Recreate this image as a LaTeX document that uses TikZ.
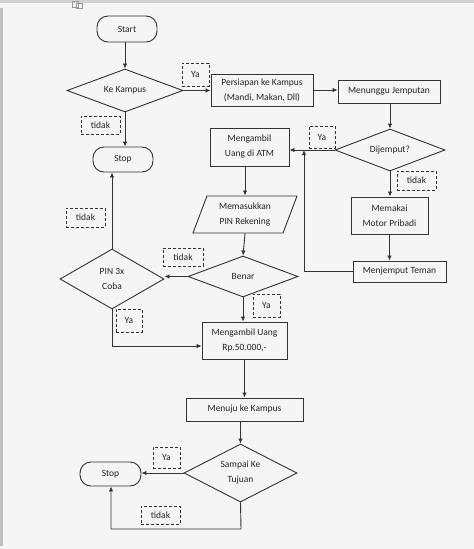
\documentclass[tikz,border=0pt]{standalone}
\usepackage{fontspec}
\setmainfont{Carlito}
\usetikzlibrary{shapes.geometric,arrows.meta}
\begin{document}
\begin{tikzpicture}[x=1pt,y=-1pt,
  every node/.style={font=\fontsize{9.5}{15}\selectfont, text=black!85, align=center, inner sep=0pt},
  ln/.style={draw=black!80, line width=0.9pt},
  arr/.style={ln, -{Latex[length=5pt,width=4.5pt]}},
  term/.style={ln, rectangle, rounded corners=11pt},
  proc/.style={ln, rectangle},
  dec/.style={ln, diamond, aspect=2},
  lbl/.style={draw=black!80, line width=0.9pt, dash pattern=on 3pt off 2pt, rectangle}
]
% background / page
\fill[black!4] (0,0) rectangle (474,549);
\fill[black!18] (0,0) rectangle (474,3);
\fill[black!25] (0,8) rectangle (2.5,546);
\draw[black!40, line width=0.5pt] (72,1) rectangle (78,7) (76,3) rectangle (82,8);

% nodes
\node[term, minimum width=60, minimum height=26] (start) at (127,29) {Start};
\node[dec, minimum width=116, minimum height=43] (kk) at (125,90.5) {Ke Kampus};
\node[lbl, minimum width=27, minimum height=23] (ya1) at (195.5,74.5) {Ya};
\node[proc, minimum width=102, minimum height=32] (pers) at (262,90) {Persiapan ke Kampus\\(Mandi, Makan, Dll)};
\node[proc, minimum width=102, minimum height=23] (tunggu) at (389,91.5) {Menunggu Jemputan};
\node[lbl, minimum width=39, minimum height=18] (tidak1) at (100.5,125) {tidak};
\node[term, minimum width=60, minimum height=25] (stop1) at (123,159.5) {Stop};
\node[proc, minimum width=79, minimum height=38] (atm) at (249.5,147) {Mengambil\\Uang di ATM};
\node[lbl, minimum width=26, minimum height=22] (ya2) at (322,137) {Ya};
\node[dec, minimum width=110, minimum height=42] (dij) at (390,150) {Dijemput?};
\node[lbl, minimum width=39, minimum height=19] (tidak3) at (416.5,180.5) {tidak};
\node[ln, trapezium, trapezium left angle=59, trapezium right angle=121, trapezium stretches body, minimum width=104, minimum height=37] (pin) at (245,214.5) {Memasukkan\\PIN Rekening};
\node[proc, minimum width=77, minimum height=37] (motor) at (389.5,215.5) {Memakai\\Motor Pribadi};
\node[proc, minimum width=93, minimum height=21] (jemput) at (399.5,271.5) {Menjemput Teman};
\node[dec, minimum width=110, minimum height=41] (benar) at (243,276.5) {Benar};
\node[lbl, minimum width=40, minimum height=18] (tidak4) at (183,257) {tidak};
\node[ln, diamond, aspect=1.73, minimum width=104, minimum height=60] (pin3) at (112,279) {PIN 3x\\Coba};
\node[lbl, minimum width=39, minimum height=19] (tidak5) at (85.5,217.5) {tidak};
\node[lbl, minimum width=26, minimum height=23] (ya6) at (129,320.5) {Ya};
\node[lbl, minimum width=27, minimum height=23] (ya5) at (266.5,305.5) {Ya};
\node[proc, minimum width=85, minimum height=37] (ambil) at (244.5,340.5) {Mengambil Uang\\Rp.50.000,-};
\node[proc, minimum width=117, minimum height=23] (menuju) at (244.5,409.5) {Menuju ke Kampus};
\node[ln, diamond, aspect=1.95, minimum width=113, minimum height=58] (sampai) at (240.5,473) {Sampai Ke\\Tujuan};
\node[term, minimum width=61, minimum height=24] (stop3) at (110.5,474) {Stop};
\node[lbl, minimum width=27, minimum height=21] (ya7) at (166.5,457.5) {Ya};
\node[lbl, minimum width=39, minimum height=18] (tidak7) at (160.5,515) {tidak};

\coordinate (j) at (304,150);
\coordinate (b1) at (241,529);
\coordinate (b2) at (111,529);

% connectors
\draw[arr] (start.south -| kk.north) -- (kk.north);
\draw[arr] (kk.east) -- (kk.east -| pers.west);
\draw[arr] (pers.east) -- (pers.east -| tunggu.west);
\draw[arr] (tunggu.south -| dij.north) -- (dij.north);
\draw[arr] (dij.west) -- (dij.west -| atm.east);
\draw[arr] (atm.south -| pin.north) -- (pin.north);
\draw[arr] (pin.south) -- (benar.north);
\draw[arr] (benar.west) -- (benar.west -| pin3.east);
\draw[arr] (pin3.north) -- (pin3.north |- stop1.south);
\draw[arr] (pin3.south) |- ([yshift=-5.5pt]ambil.west);
\draw[arr] (benar.south) -- (benar.south |- ambil.north);
\draw[arr] (kk.south) -- (kk.south |- stop1.north);
\draw[arr] (dij.south) -- (dij.south |- motor.north);
\draw[arr] (motor.south) -- (motor.south |- jemput.north);
\draw[arr] (jemput.west) -| (j);
\draw[arr] (ambil.south) -- (ambil.south |- menuju.north);
\draw[arr] (menuju.south -| sampai.north) -- (sampai.north);
\draw[arr] (sampai.west) -- (sampai.west -| stop3.east);
\draw[arr] (sampai.south) -- (b1) -- (b2) -- (b2 |- stop3.south);
\end{tikzpicture}
\end{document}
